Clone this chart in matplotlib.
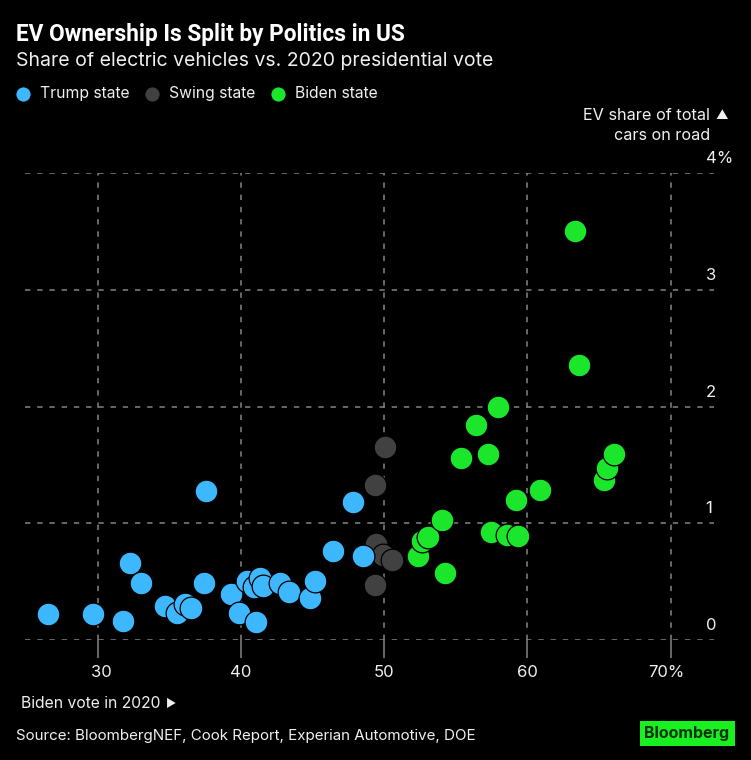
import matplotlib
matplotlib.use("Agg")
import matplotlib.pyplot as plt
from matplotlib.patches import Rectangle
from matplotlib.transforms import ScaledTranslation

plt.rcParams["font.family"] = ["Inter", "DejaVu Sans"]

W, H = 751, 760

TRUMP_X = [26.57, 29.67, 31.76, 32.25, 33.06, 34.69, 35.53, 36.13, 36.55, 37.45, 37.57, 39.34, 39.85,
           40.43, 40.92, 41.04, 41.32, 41.55, 42.71, 43.34, 44.85, 45.16, 46.43, 47.85, 48.55]
TRUMP_Y = [0.22, 0.22, 0.16, 0.657, 0.49, 0.289, 0.235, 0.306, 0.278, 0.486, 1.28, 0.39, 0.235,
           0.503, 0.454, 0.152, 0.531, 0.463, 0.488, 0.415, 0.36, 0.509, 0.76, 1.18, 0.72]
SWING_X = [49.34, 49.34, 49.43, 49.9, 50.04, 50.53]
SWING_Y = [1.328, 0.475, 0.823, 0.726, 1.657, 0.683]
BIDEN_X = [52.34, 52.65, 53.04, 54.03, 54.25, 55.34, 56.43, 57.23, 57.44, 57.93, 58.55, 59.22, 59.32,
           60.86, 63.32, 63.6, 65.34, 65.55, 66.04]
BIDEN_Y = [0.72, 0.852, 0.88, 1.028, 0.574, 1.563, 1.842, 1.597, 0.925, 1.994, 0.9, 1.195, 0.889,
           1.283, 3.5, 2.354, 1.368, 1.47, 1.59]

X_TICKS = [30, 40, 50, 60, 70]
X_LABELS = ["30", "40", "50", "60", "70%"]
Y_TICKS = [0, 1, 2, 3, 4]
Y_LABELS = ["0", "1", "2", "3", "4%"]

BLUE = "#3DB8FF"
GRAY = "#414141"
GREEN = "#1CE62C"
TEXT = "#F0F0F0"
GRID = "#858585"


def fx(px):
    return px / W


def fy(py):
    return 1 - py / H


fig = plt.figure(figsize=(W / 100, H / 100), dpi=100, facecolor="black")
ax = fig.add_axes([fx(25), fy(640), fx(714 - 25), (640 - 173) / H], facecolor="black")
ax.set_xlim(24.94, 73.02)
ax.set_ylim(0, 4)

for side in ax.spines.values():
    side.set_visible(False)

ax.set_xticks(X_TICKS, X_LABELS)
ax.set_yticks(Y_TICKS, Y_LABELS)
ax.yaxis.tick_right()
ax.tick_params(axis="x", length=13, width=1.1, color=GRID, labelcolor=TEXT, labelsize=12, pad=5)
ax.tick_params(axis="y", length=0, labelcolor=TEXT, labelsize=12, pad=-6)
for lab in ax.get_yticklabels():
    lab.set_verticalalignment("bottom")
    lab.set_transform(lab.get_transform() + ScaledTranslation(0, 5 / 72, fig.dpi_scale_trans))
# outer x labels sit a little off their ticks in the original
x_labs = ax.get_xticklabels()
x_labs[0].set_transform(x_labs[0].get_transform() + ScaledTranslation(3 / 72, 0, fig.dpi_scale_trans))
x_labs[-1].set_transform(x_labs[-1].get_transform() + ScaledTranslation(-3 / 72, 0, fig.dpi_scale_trans))

ax.set_axisbelow(True)
ax.grid(True, color=GRID, linewidth=1.1, linestyle=(0, (3.5, 4.5)))

size = 268
edge = dict(edgecolor="black", linewidth=0.9)
ax.scatter(SWING_X, SWING_Y, s=size, color=GRAY, zorder=3, label="Swing state", **edge)
ax.scatter(TRUMP_X, TRUMP_Y, s=size, color=BLUE, zorder=4, label="Trump state", **edge)
ax.scatter(BIDEN_X, BIDEN_Y, s=size, color=GREEN, zorder=4, label="Biden state", **edge)

handles, labels = ax.get_legend_handles_labels()
order = [1, 0, 2]
leg = fig.legend([handles[i] for i in order], [labels[i] for i in order], loc="center left",
                 bbox_to_anchor=(fx(-4), fy(93.5)), ncol=3, frameon=False, fontsize=11.3, markerscale=0.68,
                 labelcolor=TEXT, handletextpad=0.3, columnspacing=0.62, handlelength=1.6)

fig.text(fx(16), fy(35), "EV Ownership Is Split by Politics in US", color="white", fontsize=16.3,
         fontweight="bold", family="Roboto", va="center")
fig.text(fx(16), fy(61), "Share of electric vehicles vs. 2020 presidential vote", color=TEXT, fontsize=14,
         va="center")
fig.text(fx(710), fy(116), "EV share of total", color=TEXT, fontsize=11.7, va="center", ha="right")
fig.text(fx(715), fy(116), "\u25b2", color=TEXT, fontsize=9, va="center", ha="left")
fig.text(fx(710), fy(135), "cars on road", color=TEXT, fontsize=11.6, va="center", ha="right")
fig.text(fx(21), fy(703), "Biden vote in 2020", color=TEXT, fontsize=11.3, va="center")
fig.text(fx(166), fy(704), "\u25ba", color=TEXT, fontsize=8, va="center")
fig.text(fx(16), fy(736), "Source: BloombergNEF, Cook Report, Experian Automotive, DOE", color=TEXT,
         fontsize=10.9, va="center")

fig.add_artist(Rectangle((fx(640), fy(746)), fx(95), 25.5 / H, transform=fig.transFigure, facecolor="#19F01F",
                         edgecolor="none"))
fig.text(fx(687), fy(733.5), "Bloomberg", color="#06300A", fontsize=11.5, fontweight="bold", va="center", ha="center")

fig.savefig("out.png", dpi=100, facecolor="black")
